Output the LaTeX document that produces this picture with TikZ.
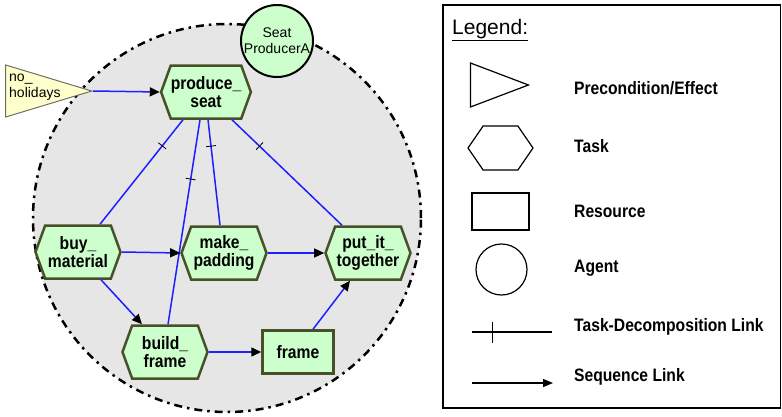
\documentclass[tikz,border=0pt]{standalone}
\usepackage{fontspec}
\setmainfont{Liberation Sans}
\newfontfamily\narrowsf[FakeStretch=0.87]{Liberation Sans}
\usepackage{tikz}
\usetikzlibrary{arrows.meta}
\usetikzlibrary{shapes.geometric}
\usetikzlibrary{shapes.symbols}
\usetikzlibrary{decorations.markings}
\definecolor{taskfill}{RGB}{204,255,204}
\definecolor{taskline}{RGB}{72,80,40}
\definecolor{precfill}{RGB}{255,255,204}
\definecolor{precline}{RGB}{110,110,100}
\definecolor{agentzone}{RGB}{230,230,230}
\definecolor{linkblue}{RGB}{30,30,255}
\newcommand\tasktext{\narrowsf\bfseries\fontsize{18}{17.5}\selectfont}
\newcommand\plaintext{\fontsize{14}{16}\selectfont}
\tikzset{
  task/.style={signal, signal to=east and west, signal pointer angle=140,
    draw=taskline, fill=taskfill, line width=2.5pt, minimum width=85pt,
    minimum height=53pt, inner sep=0pt, align=center, font=\tasktext},
  resource/.style={rectangle, draw=taskline, fill=taskfill, line width=2.5pt,
    minimum width=71pt, minimum height=43pt, inner sep=0pt, font=\tasktext},
  agent/.style={circle, draw, fill=taskfill, line width=2pt, minimum size=72pt,
    inner sep=0pt, align=center, font=\plaintext},
  precond/.style={isosceles triangle, isosceles triangle stretches, draw=precline,
    fill=precfill, line width=1pt, minimum height=86pt, minimum width=52pt, inner sep=0pt},
  link/.style={draw=linkblue, line width=1.5pt},
  decomp/.style={link, postaction={decorate}, decoration={markings,
    mark=at position #1 with {\draw[black, line width=.8pt] (0,-5pt) -- (0,5pt);}}},
  seq/.style={link, -{Triangle[length=10pt, width=9pt, color=black]}},
  legshape/.style={draw, line width=1.2pt, inner sep=0pt},
  legtext/.style={anchor=west, inner sep=0pt, font=\tasktext},
}
\begin{document}
\begin{tikzpicture}[x=1pt, y=-1pt]
\useasboundingbox (0,0) rectangle (782,416);
% zone de l'agent
\fill[agentzone] (227,218) circle (194pt);
\draw[line width=2.5pt, dash pattern=on 8pt off 5pt on 2.5pt off 5pt] (227,218) circle (194pt);
\node[agent] (seatproducer) at (277,41) {Seat\\ProducerA};
% condition
\node[precond, anchor=apex] (noholidays) at (93,91) {};
\node[anchor=west, align=left, inner sep=0pt, font=\plaintext] (noholtext) at (9,87) {no\_\\holidays};
% taches
\node[task] (produce) at (206,92) {produce\_\\seat};
\node[task] (buy) at (78,252) {buy\_\\material};
\node[task] (padding) at (224,253) {make\_\\padding};
\node[task] (together) at (368,253) {put\_it\_\\together};
\node[task] (build) at (165,352) {build\_\\frame};
\node[resource] (frame) at (298,352) {frame};
% decomposition
\draw[decomp=0.25] ([xshift=-23pt]produce.south) -- ([xshift=22pt]buy.north);
\draw[decomp=0.29] ([xshift=-6pt]produce.south) -- ([xshift=3pt]build.north);
\draw[decomp=0.25] ([xshift=2pt]produce.south) -- ([xshift=-4pt]padding.north);
\draw[decomp=0.25] ([xshift=26pt]produce.south) -- ([xshift=-26pt]together.north);
% sequence
\draw[seq] (noholidays.apex) -- (produce.west);
\draw[seq] (buy.east) -- (padding.west);
\draw[seq] (padding.east) -- (together.west);
\draw[seq] ([xshift=23pt]buy.south) -- ([xshift=-23pt]build.north);
\draw[seq] (build.east) -- (frame.west);
\draw[seq] ([xshift=15pt]frame.north) -- ([xshift=-18pt]together.south);
% legende
\draw[line width=1.5pt] (443,5) rectangle (780.5,408);
\node[anchor=west, inner sep=0pt, font=\fontsize{21}{22}\selectfont] (legtitle) at (452,30) {\underline{Legend:}};
\node[legshape, isosceles triangle, isosceles triangle stretches, minimum height=58pt,
  minimum width=44pt, anchor=apex] (legprec) at (530,85) {};
\node[legshape, signal, signal to=east and west, signal pointer angle=111,
  minimum width=65pt, minimum height=44pt] (legtask) at (500.5,148) {};
\node[legshape, rectangle, minimum width=57pt, minimum height=37pt] (legres) at (500.5,211.5) {};
\node[legshape, circle, minimum size=51pt] (legagent) at (501.5,269.5) {};
\coordinate (decA) at (472,332);
\coordinate (decB) at (552,332);
\draw[line width=1.2pt, postaction={decorate}, decoration={markings,
  mark=at position 0.26 with {\draw[line width=1.2pt] (0,-10.5pt) -- (0,10.5pt);}}] (decA) -- (decB);
\coordinate (seqA) at (472,383);
\coordinate (seqB) at (553,383);
\draw[line width=1.2pt, -{Triangle[length=10pt, width=8pt]}] (seqA) -- (seqB);
\node[legtext] (lprec) at (574,88) {Precondition/Effect};
\node[legtext] (ltask) at (574,146) {Task};
\node[legtext] (lres) at (574,211) {Resource};
\node[legtext] (lagent) at (574,268) {Agent};
\node[legtext] (ldecomp) at (574,327) {Task-Decomposition Link};
\node[legtext] (lseq) at (574,377) {Sequence Link};
\end{tikzpicture}
\end{document}
